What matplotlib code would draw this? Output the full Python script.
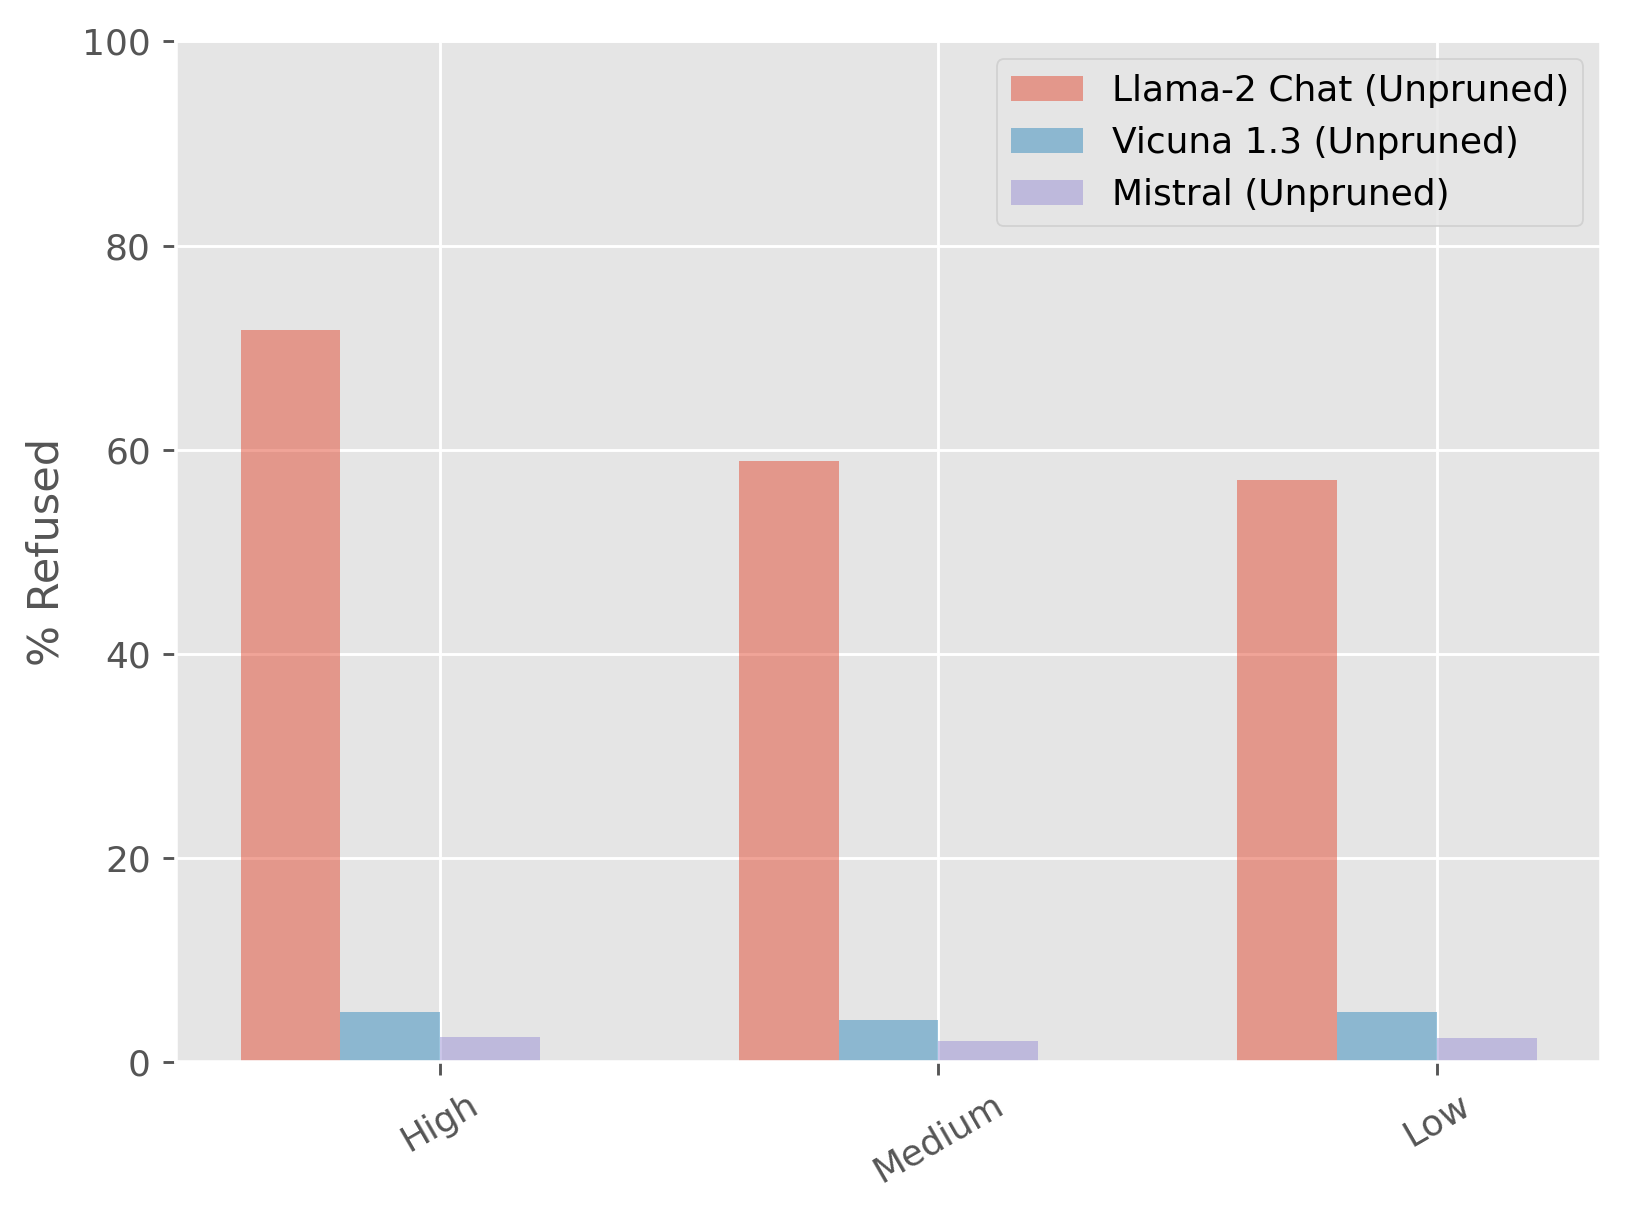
import matplotlib
matplotlib.use('Agg')
import matplotlib.pyplot as plt
import numpy as np

plt.style.use('ggplot')

levels = ['High', 'Medium', 'Low']
llama = [71.7, 58.9, 57.0]
vicuna = [4.9, 4.2, 4.9]
mistral = [2.5, 2.1, 2.4]
labels = ['Llama-2 Chat (Unpruned)', 'Vicuna 1.3 (Unpruned)', 'Mistral (Unpruned)']

x = np.arange(len(levels))
w = 0.2

fig, ax = plt.subplots(figsize=(1629 / 259, 1217 / 259), dpi=259)
ax.bar(x - 1.5 * w, llama, w, alpha=0.5, label=labels[0])
ax.bar(x - 0.5 * w, vicuna, w, alpha=0.5, label=labels[1])
ax.bar(x + 0.5 * w, mistral, w, alpha=0.5, label=labels[2])

ax.set_xticks(x)
ax.set_xticklabels(levels, rotation=30)
ax.set_ylim(0, 100)
ax.set_ylabel('% Refused')
ax.legend(loc='upper right')

plt.subplots_adjust(left=0.108, right=0.983, top=0.966, bottom=0.127)
plt.savefig('out.png')
